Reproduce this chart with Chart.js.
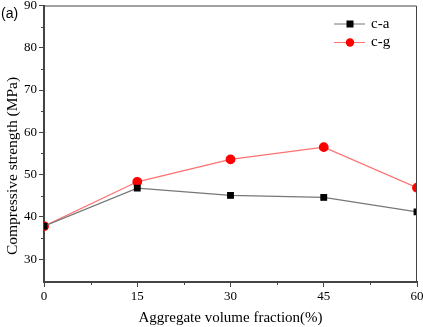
<!DOCTYPE html>
<html>
<head>
<meta charset="utf-8">
<script src="https://cdn.jsdelivr.net/npm/chart.js@4"></script>
<style>
  html, body { margin: 0; padding: 0; background: #fff; }
  #wrap { width: 423px; height: 327px; position: relative; }
</style>
</head>
<body>
<div id="wrap"><canvas id="chart" width="423" height="327"></canvas></div>
<script>
// ── Data ─────────────────────────────────────────────────────
const fractions = [0, 15, 30, 45, 60];
const seriesCA = [37.8, 46.8, 45.1, 44.6, 41.2];
const seriesCG = [37.8, 48.3, 53.6, 56.5, 46.9];
const seriesNames = ['c-a', 'c-g'];
const yTitle = 'Compressive strength (MPa)';
const xTitle = 'Aggregate volume fraction(%)';

const axisColor = '#444';
const serif = "'Liberation Serif', 'Times New Roman', serif";

// minor ticks, frame, legend, y title and panel label
const decorPlugin = {
  id: 'decor',
  afterDraw(chart) {
    const ctx = chart.ctx;
    const a = chart.chartArea;
    const xs = chart.scales.x, ys = chart.scales.y;
    ctx.save();
    ctx.strokeStyle = axisColor;
    ctx.lineWidth = 1;
    // top/right frame
    ctx.beginPath();
    ctx.moveTo(a.left, a.top + 0.5);
    ctx.lineTo(a.right - 0.5, a.top + 0.5);
    ctx.lineTo(a.right - 0.5, a.bottom);
    ctx.stroke();
    // minor ticks
    ctx.beginPath();
    for (let v = 7.5; v < 60; v += 15) {
      const px = Math.round(xs.getPixelForValue(v)) + 0.5;
      ctx.moveTo(px, a.bottom);
      ctx.lineTo(px, a.bottom + 3);
    }
    for (let v = 35; v < 90; v += 10) {
      const py = Math.round(ys.getPixelForValue(v)) + 0.5;
      ctx.moveTo(a.left, py);
      ctx.lineTo(a.left - 3, py);
    }
    ctx.stroke();

    // legend
    chart.data.datasets.forEach((ds, i) => {
      const y = 24 + i * 18.5;
      ctx.strokeStyle = ds.borderColor;
      ctx.lineWidth = 1;
      ctx.beginPath();
      ctx.moveTo(334, y);
      ctx.lineTo(365, y);
      ctx.stroke();
      ctx.fillStyle = ds.pointBackgroundColor;
      if (ds.pointStyle === 'rect') {
        ctx.fillRect(346.5, y - 3.5, 7, 7);
      } else {
        ctx.beginPath();
        ctx.arc(350, y, 4.2, 0, Math.PI * 2);
        ctx.fill();
      }
      ctx.fillStyle = '#000';
      ctx.font = '15px ' + serif;
      ctx.textBaseline = 'middle';
      ctx.fillText(ds.label, 371, y);
    });

    // y title (sits a bit below the axis centre in the original)
    ctx.save();
    ctx.translate(13, 166);
    ctx.rotate(-Math.PI / 2);
    ctx.font = '15.5px ' + serif;
    ctx.textAlign = 'center';
    ctx.textBaseline = 'middle';
    ctx.fillStyle = '#000';
    ctx.fillText(yTitle, 0, 0);
    ctx.restore();

    ctx.font = "14px 'Liberation Sans', Arial, sans-serif";
    ctx.fillStyle = '#000';
    ctx.textBaseline = 'middle';
    ctx.fillText('(a)', 1, 14);
    ctx.restore();
  }
};

new Chart(document.getElementById('chart'), {
  type: 'line',
  data: {
    labels: fractions,
    datasets: [
      {
        label: seriesNames[0],
        data: fractions.map((x, i) => ({ x, y: seriesCA[i] })),
        borderColor: '#777',
        backgroundColor: '#000',
        pointBackgroundColor: '#000',
        pointBorderColor: '#000',
        pointStyle: 'rect',
        pointRadius: 4,
        borderWidth: 1.2,
        tension: 0
      },
      {
        label: seriesNames[1],
        data: fractions.map((x, i) => ({ x, y: seriesCG[i] })),
        borderColor: '#ff7070',
        backgroundColor: '#ff0000',
        pointBackgroundColor: '#ff0000',
        pointBorderColor: '#ff0000',
        pointStyle: 'circle',
        pointRadius: 4.3,
        borderWidth: 1.2,
        tension: 0
      }
    ]
  },
  options: {
    responsive: false,
    animation: false,
    layout: { padding: { top: 5, right: 6, left: 0, bottom: 0 } },
    plugins: { legend: { display: false }, tooltip: { enabled: false } },
    scales: {
      x: {
        type: 'linear',
        min: 0, max: 60,
        afterFit: s => { s.height = 45; s.paddingRight = 0; s.paddingLeft = 0; },
        border: { color: axisColor, width: 2 },
        grid: { drawOnChartArea: false, tickLength: 5, tickColor: axisColor, tickWidth: 1 },
        ticks: { stepSize: 15, color: '#000', padding: 2, font: { family: serif, size: 13 } },
        title: { display: true, text: xTitle, color: '#000',
                 font: { family: serif, size: 15 }, padding: { top: 3, bottom: 0 } }
      },
      y: {
        min: 24.6, max: 90,
        afterFit: s => { s.width = 44; s.paddingTop = 0; s.paddingBottom = 0; },
        border: { color: axisColor, width: 2 },
        grid: { drawOnChartArea: false, tickLength: 5, tickColor: axisColor, tickWidth: 1 },
        ticks: { stepSize: 10, includeBounds: false, color: '#000', padding: 2, font: { family: serif, size: 13 } },
        title: { display: false }
      }
    }
  },
  plugins: [decorPlugin]
});
</script>
</body>
</html>
